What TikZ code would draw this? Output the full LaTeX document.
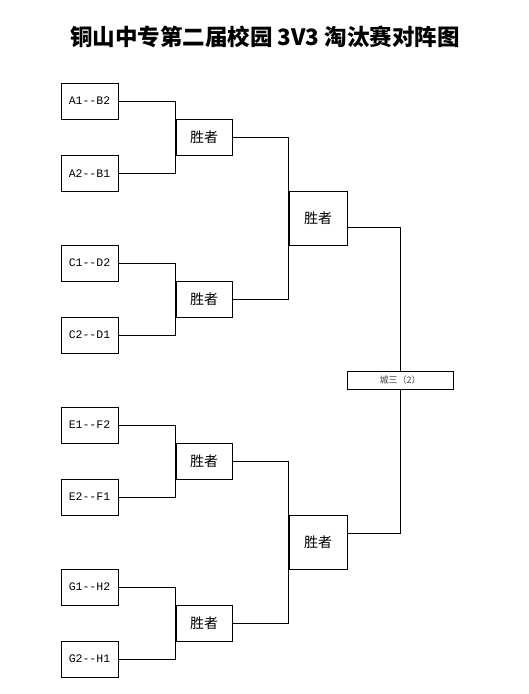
\documentclass[tikz,border=0pt]{standalone}
\usepackage{fontspec}
\newfontfamily\cjk{Noto Sans CJK SC}
\newfontfamily\mono{Liberation Mono}
\begin{document}
\begin{tikzpicture}[x=1pt,y=-1pt,
  team/.style={draw, line width=1pt, fill=white, minimum width=57pt, minimum height=36pt, inner sep=0pt, font=\mono\fontsize{11.5}{12}\selectfont},
  win/.style={draw, line width=1pt, fill=white, minimum width=56pt, minimum height=36pt, inner sep=0pt, font=\cjk\fontsize{14}{16}\selectfont},
  win2/.style={draw, line width=1pt, fill=white, minimum width=58pt, minimum height=54pt, inner sep=0pt, font=\cjk\fontsize{14}{16}\selectfont},
  final/.style={draw, line width=1pt, fill=white, minimum width=106pt, minimum height=18pt, inner sep=0pt, text=black!75, font=\cjk\fontsize{9}{10}\selectfont},
  wire/.style={line width=1pt}]
\useasboundingbox (0,0) rectangle (528,694);
\node[font=\cjk\bfseries\fontsize{22.5}{24}\selectfont] (title) at (265,37) {铜山中专第二届校园 3V3 淘汰赛对阵图};
% team boxes
\node[team] (t1) at (89.5,101) {A1--B2};
\node[team] (t2) at (89.5,173.5) {A2--B1};
\node[team] (t3) at (89.5,263) {C1--D2};
\node[team] (t4) at (89.5,335) {C2--D1};
\node[team] (t5) at (89.5,425) {E1--F2};
\node[team] (t6) at (89.5,497) {E2--F1};
\node[team] (t7) at (89.5,587) {G1--H2};
\node[team] (t8) at (89.5,659) {G2--H1};
% first-round winners
\node[win] (w1) at (204,137) {胜者};
\node[win] (w2) at (204,299) {胜者};
\node[win] (w3) at (204,461) {胜者};
\node[win] (w4) at (204,623) {胜者};
% second round
\node[win2] (s1) at (318,218) {胜者};
\node[win2] (s2) at (318,542) {胜者};
% final
\node[final] (f) at (400,380) {城三（2）};
% connectors
\draw[wire] (t1.east) -| (w1.west) |- (t2.east);
\draw[wire] (t3.east) -| (w2.west) |- (t4.east);
\draw[wire] (t5.east) -| (w3.west) |- (t6.east);
\draw[wire] (t7.east) -| (w4.west) |- (t8.east);
\draw[wire] (w1.east) -| (s1.west) |- (w2.east);
\draw[wire] (w3.east) -| (s2.west) |- (w4.east);
\coordinate (s1o) at ([yshift=-9pt]s1.east);
\coordinate (s2o) at ([yshift=9pt]s2.east);
\draw[wire] (s1o) -| (f.north);
\draw[wire] (s2o) -| (f.south);
\end{tikzpicture}
\end{document}
